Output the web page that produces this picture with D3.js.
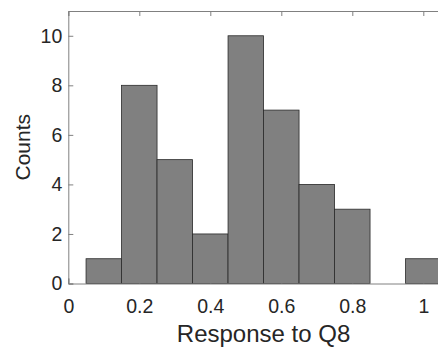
<!DOCTYPE html>
<html>
<head>
<meta charset="utf-8">
<script src="https://cdn.jsdelivr.net/npm/d3@7"></script>
<style>
  body { margin: 0; background: #fff; }
  svg { display: block; font-family: "Liberation Sans", Arial, Helvetica, sans-serif; }
</style>
</head>
<body>
<div id="chart"></div>
<script>
// histogram bins (width 0.1) and counts
var binStarts = [0.05, 0.15, 0.25, 0.35, 0.45, 0.55, 0.65, 0.75, 0.85, 0.95];
var counts = [1, 8, 5, 2, 10, 7, 4, 3, 0, 1];
var binWidth = 0.1;
var xTicks = [0, 0.2, 0.4, 0.6, 0.8, 1];
var yTicks = [0, 2, 4, 6, 8, 10];

var width = 438,
    height = 347,
    plotLeft = 68.3,
    plotTop = 11,
    plotBottom = 283.5;

var svg = d3.select("#chart")
    .append("svg")
    .attr("width", width)
    .attr("height", height);

// axes box runs past the right edge of the window
var x = d3.scaleLinear().domain([0, 1.1]).range([plotLeft, plotLeft + 355 * 1.1]);
var y = d3.scaleLinear().domain([0, 11]).range([plotBottom, plotTop]);

// bars
svg.selectAll("rect.bar")
    .data(binStarts).enter()
    .append("rect")
    .attr("class", "bar")
    .attr("x", function(d) { return x(d); })
    .attr("width", function(d) { return x(d + binWidth) - x(d); })
    .attr("y", function(d, i) { return y(counts[i]); })
    .attr("height", function(d, i) { return y(0) - y(counts[i]); })
    .attr("fill", "#808080")
    .attr("stroke", "#2a2a2a")
    .attr("stroke-width", 0.8);

// axes (ticks inward, MATLAB style)
var axisColor = "#808080";
var xAxis = d3.axisBottom(x).tickValues(xTicks).tickSize(-5).tickPadding(16)
    .tickFormat(function(d) { return d3.format("")(d); });
var yAxis = d3.axisLeft(y).tickValues(yTicks).tickSize(-5).tickPadding(6);
var xAxisTop = d3.axisTop(x).tickValues(xTicks).tickSize(-5).tickFormat("");

function styleAxis(g) {
    g.select(".domain").attr("stroke", axisColor);
    g.selectAll(".tick line").attr("stroke", axisColor);
    g.selectAll(".tick text").attr("fill", "#262626").attr("font-size", 19.5)
        .attr("font-family", "'Liberation Sans', Arial, sans-serif");
}

svg.append("g").attr("transform", "translate(0," + plotBottom + ")").call(xAxis).call(styleAxis);
svg.append("g").attr("transform", "translate(0," + plotTop + ")").call(xAxisTop).call(styleAxis);
svg.append("g").attr("transform", "translate(" + plotLeft + ",0)").call(yAxis).call(styleAxis);

// axis labels
svg.append("text")
    .attr("x", (plotLeft + x(1.1)) / 2)
    .attr("y", 341.5)
    .attr("text-anchor", "middle")
    .attr("font-size", 24)
    .attr("fill", "#262626")
    .text("Response to Q8");

svg.append("text")
    .attr("transform", "translate(30," + ((plotTop + plotBottom) / 2) + ") rotate(-90)")
    .attr("text-anchor", "middle")
    .attr("font-size", 21)
    .attr("fill", "#262626")
    .text("Counts");
</script>
</body>
</html>
